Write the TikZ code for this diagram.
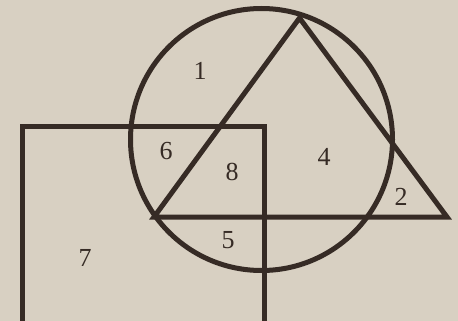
\documentclass[tikz,border=0pt]{standalone}
\usepackage{fontspec}
\setmainfont{Liberation Serif}
\definecolor{paper}{RGB}{216,208,194}
\definecolor{ink}{RGB}{54,43,37}
\tikzset{
  outline/.style={draw=ink, line width=5pt},
  lbl/.style={text=ink, font=\fontsize{26}{26}\selectfont, inner sep=0pt}
}
\begin{document}
\begin{tikzpicture}[x=1pt,y=-1pt]
\useasboundingbox (0,0) rectangle (458,321);
\fill[paper] (0,0) rectangle (458,321);
\clip (0,0) rectangle (458,321);
\draw[outline] (261.5,139.5) circle (131);
\draw[outline, line join=miter] (299.5,18) -- (154,217) -- (447,217) -- cycle;
\draw[outline] (22,340) -- (22,126.5) -- (264.5,126.5) -- (264.5,340);
\node[lbl] (n1) at (200,71) {1};
\node[lbl] (n6) at (166,151) {6};
\node[lbl] (n8) at (232,172) {8};
\node[lbl] (n4) at (324,157) {4};
\node[lbl] (n2) at (401,197) {2};
\node[lbl] (n5) at (228,240) {5};
\node[lbl] (n7) at (85,258) {7};
\end{tikzpicture}
\end{document}
